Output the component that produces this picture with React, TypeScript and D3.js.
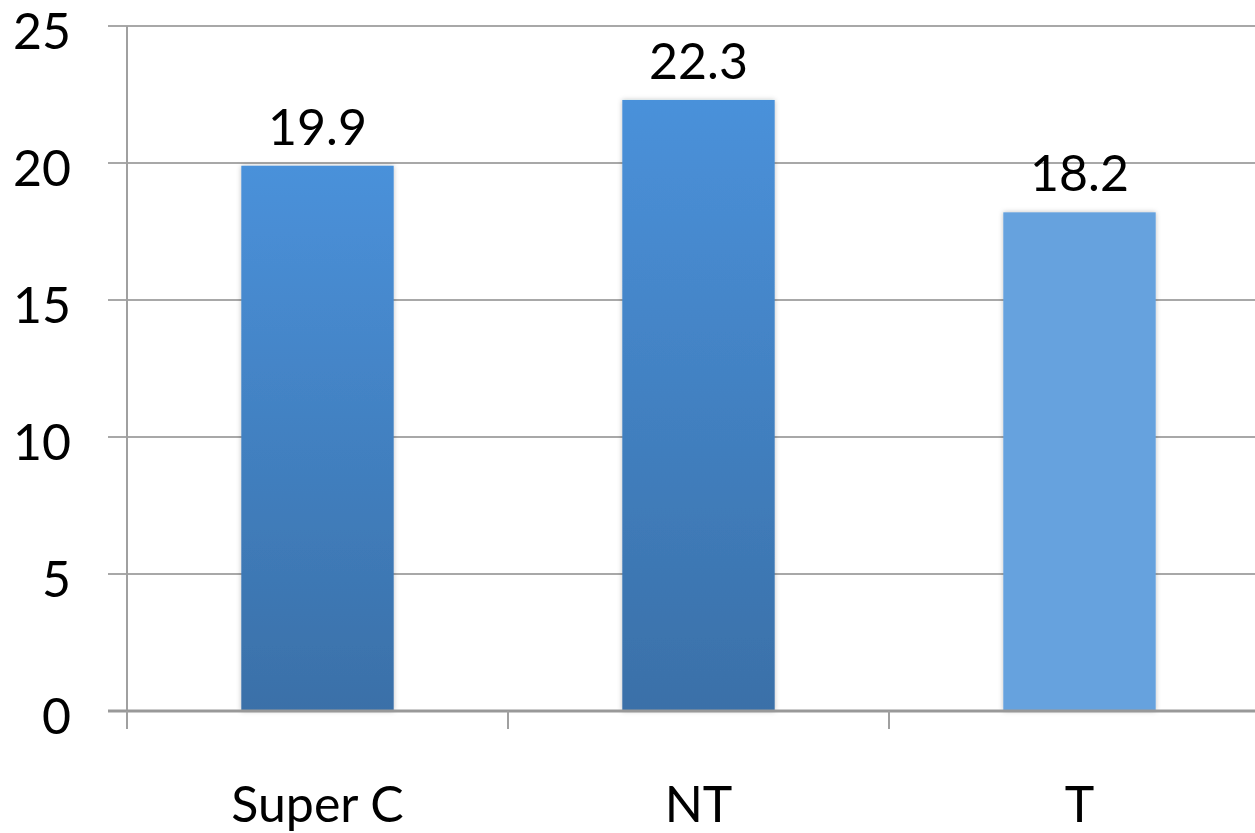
import React from "react";
import * as d3 from "d3";

const categories = ["Super C", "NT", "T"];
const values = [19.9, 22.3, 18.2];
const yTicks = [0, 5, 10, 15, 20, 25];

const W = 1255;
const H = 833;
const FONT = "Lato, 'Open Sans', sans-serif";

export default function App() {
  const x = d3.scaleBand<string>().domain(categories).range([127, 1270]).paddingInner(0.6).paddingOuter(0.3);
  const y = d3.scaleLinear().domain([0, 25]).range([711, 26]);
  const step = x.step();
  const boundaries = categories.map((_, i) => 127 + i * step);

  return (
    <svg width={W} height={H} style={{ position: "absolute", left: 0, top: 0, background: "#fff" }}>
      <defs>
        <linearGradient id="g1" x1="0" y1="0" x2="0" y2="1">
          <stop offset="0%" stopColor="#4a91da" />
          <stop offset="100%" stopColor="#3a70a8" />
        </linearGradient>
        <filter id="sh" x="-10%" y="-10%" width="120%" height="120%">
          <feDropShadow dx="0" dy="0" stdDeviation="2.5" floodColor="#000" floodOpacity="0.25" />
        </filter>
      </defs>
      {yTicks.map((t) => (
        <g key={t}>
          {t !== 0 && <line x1={108} x2={W} y1={y(t)} y2={y(t)} stroke="#a8a8a8" strokeWidth={2} />}
          <text x={71} y={y(t)} dy="0.45em" textAnchor="end" fontFamily={FONT} fontSize={50} fill="#000">
            {t}
          </text>
        </g>
      ))}
      {categories.map((c, i) => {
        const v = values[i];
        const fill = i === 2 ? "#66a2de" : "url(#g1)";
        return (
          <g key={c}>
            <rect
              x={x(c)!}
              y={y(v)}
              width={x.bandwidth()}
              height={y(0) - y(v)}
              fill={fill}
              filter="url(#sh)"
            />
            <text
              x={x(c)! + x.bandwidth() / 2}
              y={y(v) - 21}
              textAnchor="middle"
              fontFamily={FONT}
              fontSize={50}
              fill="#000"
            >
              {v.toFixed(1)}
            </text>
            <text
              x={x(c)! + x.bandwidth() / 2}
              y={822}
              textAnchor="middle"
              fontFamily={FONT}
              fontSize={50}
              fill="#000"
            >
              {c}
            </text>
          </g>
        );
      })}
      <line x1={127} x2={127} y1={26} y2={729} stroke="#a0a0a0" strokeWidth={2} />
      <line x1={108} x2={W} y1={711} y2={711} stroke="#999" strokeWidth={3} />
      {boundaries.map((b) => (
        <line key={b} x1={b} x2={b} y1={711} y2={729} stroke="#a0a0a0" strokeWidth={2} />
      ))}
    </svg>
  );
}
